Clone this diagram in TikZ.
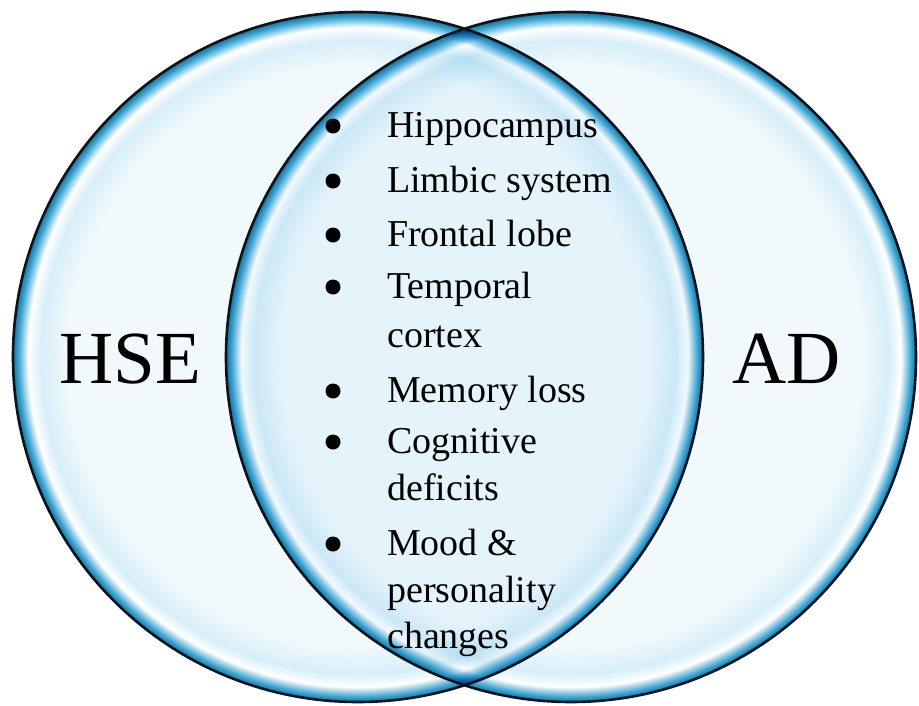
\documentclass[tikz,border=0pt]{standalone}
\usepackage{fontspec}
\setmainfont{Liberation Serif}
\usepackage{xcolor}
\definecolor{bubcenter}{HTML}{F2F9FD}
\definecolor{bubpale}{HTML}{D6EEF8}
\definecolor{bubrim}{HTML}{34A2D2}
\definecolor{bubline}{HTML}{08141E}
\pgfdeclareradialshading{bubble}{\pgfpoint{0bp}{0bp}}{%
  color(0bp)=(bubcenter); color(21bp)=(bubcenter); color(23bp)=(bubpale);
  color(23.9bp)=(white); color(24.65bp)=(bubrim); color(25bp)=(bubrim!70!black);
  color(50bp)=(bubrim!70!black)}

\begin{document}
\begin{tikzpicture}[
    x=1pt,y=-1pt,
    bubble/.style={shading=bubble},
    rim/.style={bubline,line width=2.6pt},
    bigname/.style={font=\fontsize{75}{75}\selectfont,inner sep=0pt,anchor=base},
    item/.style={font=\fontsize{38}{46}\selectfont,inner sep=0pt,anchor=base west},
    dot/.style={circle,fill=black,minimum size=15pt,inner sep=0pt}
  ]

  \def\R{345}
  \def\xl{358}
  \def\xr{571}
  \def\yc{357}

  \useasboundingbox (0,0) rectangle (919,705);

  % CIRCLES
  \begin{scope}[blend group=multiply]
    \shade[bubble] (\xl,\yc) circle (\R);
    \shade[bubble] (\xr,\yc) circle (\R);
  \end{scope}
  \draw[rim] (\xl,\yc) circle (\R);
  \draw[rim] (\xr,\yc) circle (\R);

  % SET NAMES
  \node[bigname] (hse) at (130,383) {HSE};
  \node[bigname] (ad) at (787,383) {AD};

  % SHARED FEATURES
  \foreach \y/\txt/\b [count=\i] in {
      137/Hippocampus/1, 192/Limbic system/1, 246/Frontal lobe/1,
      298/Temporal/1, 347/cortex/0, 402/Memory loss/1,
      453/Cognitive/1, 500/deficits/0, 555/Mood \&/1,
      602/personality/0, 648/changes/0}{
    \node[item] (l\i) at (387,\y) {\txt};
    \ifnum\b=1
      \node[dot] (b\i) at (333,\y-11) {};
    \fi
  }

\end{tikzpicture}
\end{document}
